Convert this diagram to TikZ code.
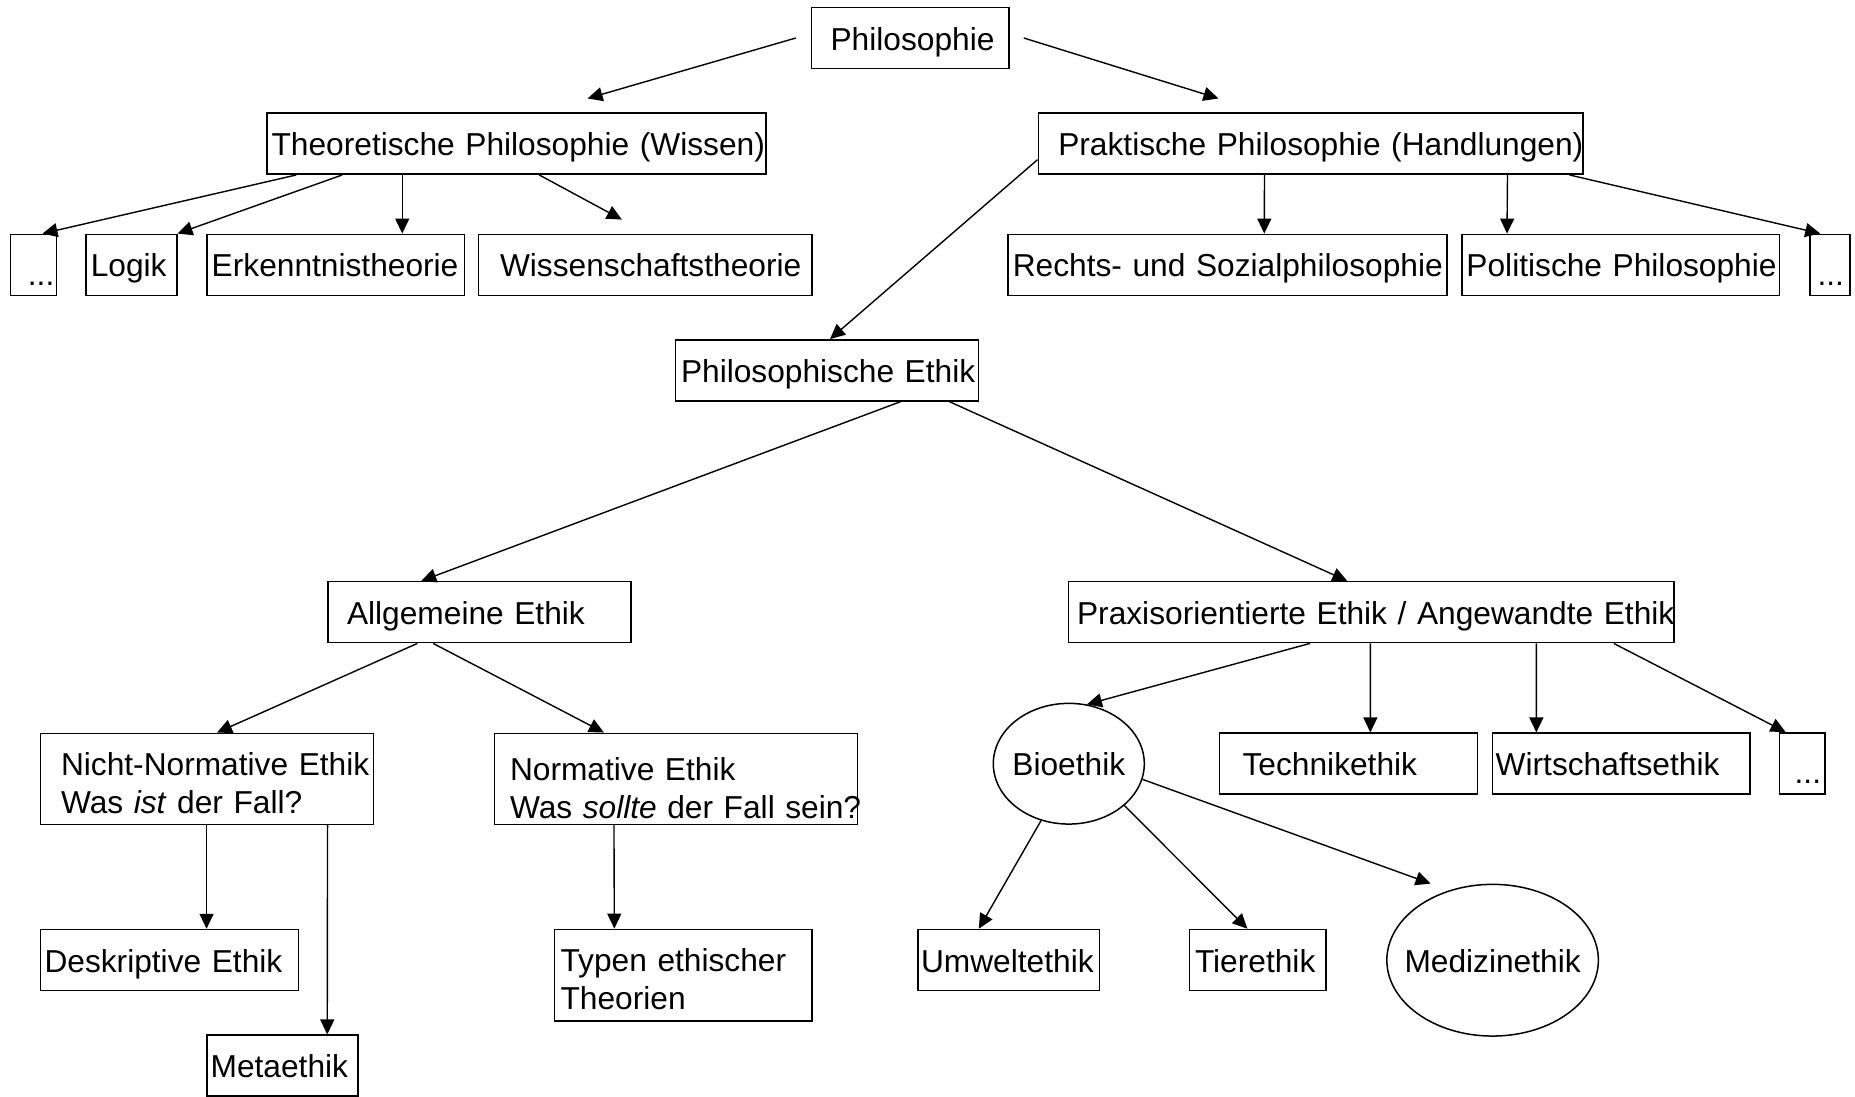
\documentclass[tikz,border=0pt]{standalone}
\usepackage{fontspec}
\setmainfont{Liberation Sans}
\usetikzlibrary{arrows.meta,calc,shapes.geometric}
\newcommand{\boxfont}{\fontsize{31.7pt}{38pt}\selectfont\hyphenpenalty=10000\exhyphenpenalty=10000}
\tikzset{
    branch/.style={rectangle, draw, line width=1.5pt, minimum height=61pt, inner ysep=0pt, align=left, font=\boxfont},
    single/.style={branch, text height=24pt, text depth=0pt},
    double/.style={branch, minimum height=91pt, text depth=38pt},
    more/.style={branch, align=right, text height=41pt, text depth=0pt},
    bubble/.style={ellipse, draw, line width=1.5pt, inner sep=0pt, text height=24pt, text depth=0pt, font=\boxfont},
    link/.style={-{Triangle[length=15pt, width=14pt]}, line width=1.4pt}
}

\begin{document}
\begin{tikzpicture}[x=1pt, y=-1pt]
    \useasboundingbox (0,0) rectangle (1855,1096);

    % Root
    \node[single, text width=159.5pt, inner xsep=19pt] (philo) at (910.3,38) {\mbox{Philosophie}};

    % Theoretical / practical branch
    \node[single, text width=490pt, inner xsep=4.6pt] (theo) at (516.6,143.7) {\mbox{Theoretische Philosophie (Wissen)}};
    \node[single, text width=504.5pt, inner xsep=20pt] (prak) at (1310.5,143.7) {\mbox{Praktische Philosophie (Handlungen)}};

    % Sub-disciplines
    \node[more, text width=41.6pt, inner xsep=2pt] (dots1) at (33.5,264.8) {...};
    \node[single, text width=81.3pt, inner xsep=4.7pt] (logik) at (131.4,264.8) {Logik};
    \node[single, text width=248pt, inner xsep=4.7pt] (erkennt) at (335.7,264.8) {\mbox{Erkenntnistheorie}};
    \node[single, text width=290.6pt, inner xsep=21.4pt] (wiss) at (645.3,264.8) {\mbox{Wissenschaftstheorie}};
    \node[single, text width=429.4pt, inner xsep=4.8pt] (rechts) at (1227.5,264.8) {\mbox{Rechts- und Sozialphilosophie}};
    \node[single, text width=308.5pt, inner xsep=4.7pt] (polit) at (1620.7,264.8) {\mbox{Politische Philosophie}};
    \node[more, text width=28pt, inner xsep=6pt] (dots2) at (1830,264.8) {...};

    % Ethics
    \node[single, text width=292pt, inner xsep=5.4pt] (phethik) at (827,370.3) {\mbox{Philosophische Ethik}};
    \node[single, text width=265pt, inner xsep=19pt] (allg) at (479.5,612.2) {Allgemeine Ethik};
    \node[single, text width=588.5pt, inner xsep=8.5pt] (praxis) at (1371.3,612.2) {\mbox{Praxisorientierte Ethik / Angewandte Ethik}};

    % Normative and applied ethics
    \node[double, text height=32pt, text width=292pt, inner xsep=20.7pt] (nichtnorm) at (207,778.8) {\mbox{Nicht-Normative Ethik}\\Was \textit{ist} der Fall?};
    \node[double, text height=40.4pt, text width=332.4pt, inner xsep=15.3pt] (norm) at (676.2,778.8) {Normative Ethik\\\mbox{Was \textit{sollte} der Fall sein?}};
    \node[bubble, minimum width=151pt, minimum height=120.7pt] (bio) at (1068.8,763.7) {\makebox[0pt]{Bioethik}};
    \node[single, text width=212pt, inner xsep=23pt] (technik) at (1348.6,763.7) {Technikethik};
    \node[single, text width=251.2pt, inner xsep=3.1pt] (wirt) at (1621.3,763.7) {Wirtschaftsethik};
    \node[more, text width=37.7pt, inner xsep=4pt] (dots3) at (1802.2,763.3) {...};

    % Bottom row
    \node[single, text width=249.6pt, inner xsep=4.2pt] (deskr) at (169.3,960) {Deskriptive Ethik};
    \node[single, text width=144pt, inner xsep=3.6pt] (meta) at (282.6,1065.7) {Metaethik};
    \node[double, minimum height=91.7pt, text height=31pt, text width=245.4pt, inner xsep=6pt] (typen) at (683.3,975.2) {Typen ethischer\\Theorien};
    \node[single, text width=175.5pt, inner xsep=3pt] (umwelt) at (1008.8,960) {\mbox{Umweltethik}};
    \node[single, text width=125.6pt, inner xsep=5.3pt] (tier) at (1257.8,960) {Tierethik};
    \node[bubble, minimum width=211.5pt, minimum height=151.7pt] (medizin) at (1492.6,960.2) {\makebox[0pt]{Medizinethik}};

    % Edges from the root
    \draw[link] ($(philo.west)+(-15,0)$) -- ($(theo.north)+(71,-14)$);
    \draw[link] ($(philo.east)+(14,0)$) -- ($(prak.north)+(-92,-14)$);

    % Theoretical philosophy
    \draw[link] ($(theo.south west)+(30,0)$) -- ($(dots1.north)+(9,0)$);
    \draw[link] ($(theo.south west)+(76,0)$) -- (logik.north east);
    \draw[link] ($(theo.south west)+(136,0)$) -- ($(erkennt.north west)+(196,0)$);
    \draw[link] ($(theo.south west)+(273,0)$) -- ($(wiss.north west)+(144,-14)$);

    % Practical philosophy
    \draw[link] ($(prak.west)+(0,16)$) -- ($(phethik.north)+(3,0)$);
    \draw[link] ($(prak.south west)+(227,0)$) -- ($(rechts.north west)+(257,0)$);
    \draw[link] ($(prak.south west)+(470,0)$) -- ($(polit.north west)+(46,0)$);
    \draw[link] ($(prak.south east)+(-14,0)$) -- ($(dots2.north west)+(11,0)$);

    % Ethics
    \draw[link] ($(phethik.south west)+(226,0)$) -- ($(allg.north west)+(94,0)$);
    \draw[link] ($(phethik.south east)+(-30,0)$) -- ($(praxis.north)+(-24,0)$);
    \draw[link] ($(allg.south west)+(90,0)$) -- ($(nichtnorm.north)+(10,0)$);
    \draw[link] ($(allg.south west)+(106,0)$) -- ($(norm.north west)+(110,0)$);
    \draw[link] ($(praxis.south west)+(242,0)$) -- (bio.73);
    \draw[link] ($(praxis.south west)+(302.5,0)$) -- ($(technik.north west)+(151.5,0)$);
    \draw[link] ($(praxis.south west)+(468.5,0)$) -- ($(wirt.north west)+(44.5,0)$);
    \draw[link] ($(praxis.south east)+(-61,0)$) -- ($(dots3.north west)+(7,0)$);

    % Lower level
    \draw[link] ($(nichtnorm.south west)+(167,0)$) -- ($(deskr.north west)+(167,0)$);
    \draw[link] ($(nichtnorm.south west)+(288,0)$) -- ($(meta.north west)+(121,0)$);
    \draw[link] ($(norm.south west)+(120,0)$) -- ($(typen.north west)+(60.5,0)$);
    \draw[link] (bio.-116) -- ($(umwelt.north west)+(61.5,0)$);
    \draw[link] (bio.-37) -- ($(tier.north west)+(58.5,0)$);
    \draw[link] (bio.-12) -- ($(medizin.north)+(-62,0)$);
\end{tikzpicture}
\end{document}
